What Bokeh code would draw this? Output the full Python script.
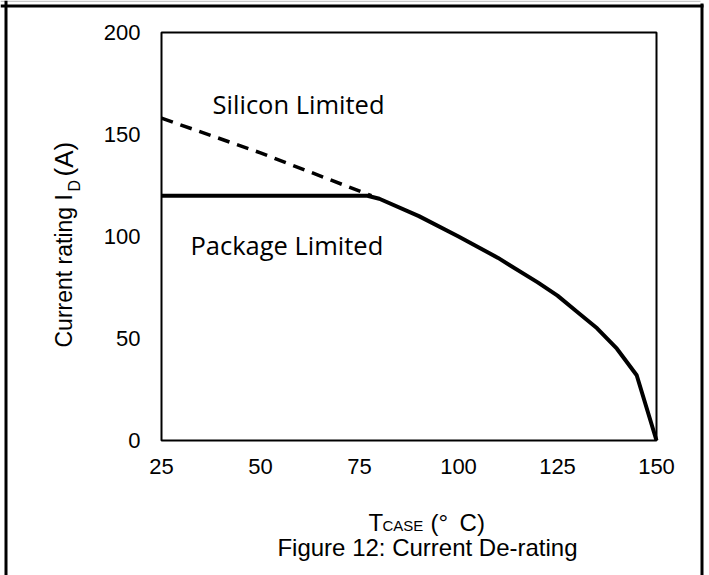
from math import pi
from bokeh.plotting import figure
from bokeh.models import Range1d, FixedTicker, Label, BoxAnnotation, LinearAxis
from bokeh.embed import file_html
from bokeh.resources import INLINE

# ---- data ----
temp_ticks = [25, 50, 75, 100, 125, 150]
current_ticks = [0, 50, 100, 150, 200]

silicon_T = [25, 50, 78]
silicon_I = [158, 141, 120]

package_T = [25, 77, 80, 90, 100, 110, 120, 125, 130, 135, 140, 145, 150]
package_I = [120, 120, 118.5, 110, 100, 89.5, 77.5, 71, 63, 55, 45, 32, 0]

ARIAL = "Liberation Sans"
W, H = 709, 575

# plot box in canvas pixels
BOX_L, BOX_R, BOX_T, BOX_B = 161, 656, 32, 440
T0, T1 = temp_ticks[0], temp_ticks[-1]
I0, I1 = current_ticks[0], current_ticks[-1]
sx = (T1 - T0) / (BOX_R - BOX_L)
sy = (I1 - I0) / (BOX_B - BOX_T)
x_range = Range1d(T0 - BOX_L * sx, T1 + (W - BOX_R) * sx)
y_range = Range1d(I0 - (H - BOX_B) * sy, I1 + BOX_T * sy)

p = figure(width=W, height=H, min_border=0, x_range=x_range, y_range=y_range,
           x_axis_type=None, y_axis_type=None,
           output_backend="svg", toolbar_location=None)
p.background_fill_color = "white"
p.border_fill_color = "white"
p.outline_line_color = None

xaxis = LinearAxis(ticker=FixedTicker(ticks=temp_ticks), fixed_location=I0)
yaxis = LinearAxis(ticker=FixedTicker(ticks=current_ticks), fixed_location=T0)
p.add_layout(xaxis, "below")
p.add_layout(yaxis, "left")
for ax in (xaxis, yaxis):
    ax.axis_line_color = None
    ax.major_tick_line_color = None
    ax.minor_tick_line_color = None
    ax.major_label_text_font = ARIAL
    ax.major_label_text_font_size = "22px"
    ax.major_label_text_color = "black"
yaxis.major_label_standoff = 15
xaxis.major_label_standoff = 12

p.xgrid.ticker = FixedTicker(ticks=temp_ticks)
p.ygrid.ticker = FixedTicker(ticks=current_ticks)
p.xgrid.bounds = (I0, I1)
p.ygrid.bounds = (T0, T1)
for g in (p.xgrid, p.ygrid):
    g.grid_line_color = "#d9d9d9"
    g.grid_line_width = 1.5

p.line(package_T, package_I, line_color="black", line_width=4)
p.line(silicon_T, silicon_I, line_color="black", line_width=3.5, line_dash="12 8")

# plot-area frame
p.add_layout(BoxAnnotation(left=T0, right=T1, bottom=I0, top=I1,
                           fill_color=None, fill_alpha=0,
                           line_color="black", line_alpha=1, line_width=2))

def lab(x, y, text, size, font=ARIAL, angle=0, align="left", units="data"):
    p.add_layout(Label(x=x, y=y, text=text, text_font=font, text_font_size=size,
                       text_color="black", angle=angle, text_align=align,
                       text_baseline="alphabetic", x_units=units, y_units=units))

lab(37.9, 165.0, "Silicon Limited", "25.5px", font="Open Sans")
lab(32.3, 96.0, "Package Limited", "25.5px", font="Open Sans")

# y axis label: Current rating I_D (A)   (canvas pixels)
lab(63.5, 347, "Current rating I", "23px", angle=pi / 2, units="canvas")
lab(74, 191, "D", "16px", angle=pi / 2, units="canvas")
lab(63, 176, "(A)", "26px", angle=pi / 2, units="canvas")

# x axis label: T_CASE (° C)
lab(368, 522, "T", "24px", units="canvas")
lab(382, 525, "CASE", "15px", units="canvas")
lab(430, 522, "(° \u2009C)", "24px", units="canvas")

# caption
lab(427, 547, "Figure 12: Current De-rating", "24px", align="center", units="canvas")

# outer cell border (canvas pixels)
for l, r, t, b, c in [(0, 700, 0, 1.5, "#c8c8c8"),
                      (4, 7, 0, H, "black"), (700, 703, 3, H, "black"),
                      (0, 703, 4, 7, "black")]:
    p.add_layout(BoxAnnotation(left=l, right=r, top=t, bottom=b,
                               left_units="canvas", right_units="canvas",
                               top_units="canvas", bottom_units="canvas",
                               fill_color=c, fill_alpha=1, line_color=None))

open("out.html", "w").write(file_html(p, INLINE))
